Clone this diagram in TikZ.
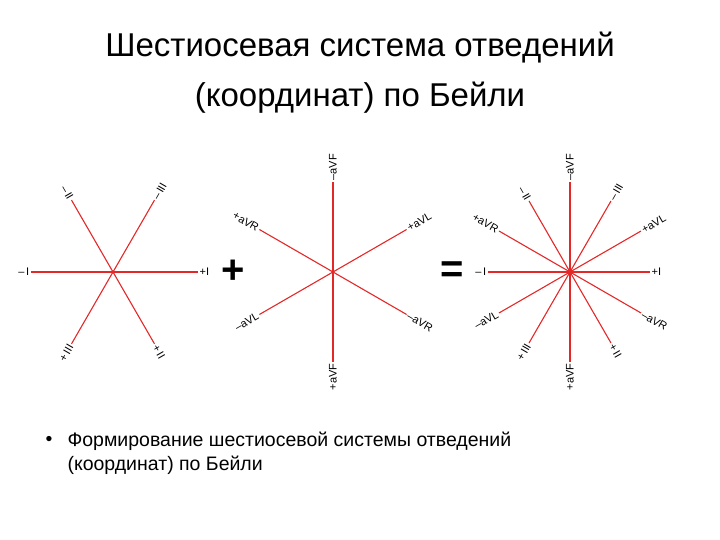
\documentclass[tikz,border=0pt]{standalone}
\usepackage{fontspec}
\setmainfont{Liberation Sans}
\definecolor{axred}{RGB}{228,40,40}
\begin{document}
\begin{tikzpicture}[x=1pt,y=1pt,
  axis/.style={draw=axred,line width=1.1pt},
  lblR/.style={font=\fontsize{11}{11}\selectfont,inner sep=1.5pt,anchor=west},
  lblL/.style={font=\fontsize{11}{11}\selectfont,inner sep=1.5pt,anchor=east},
  title/.style={font=\fontsize{33}{50}\selectfont,align=center},
  body/.style={font=\fontsize{19.5}{24}\selectfont,align=left,anchor=north west}]
\useasboundingbox (0,0) rectangle (720,540);
\node[title] (t) at (360,467) {Шестиосевая система отведений\\(координат) по Бейли};
\node[body] (b) at (64,112) {Формирование шестиосевой системы отведений\\(координат) по Бейли};
\node[font=\fontsize{19.5}{24}\selectfont] (bul) at (49,99) {•};
% left
\coordinate (L) at (113,268);
\foreach \a/\r/\t/\rot/\st in {0/85/+I/0/lblR, 60/83/--\,III/60/lblR, 300/83/+\,II/-60/lblR, 180/82/--\,I/0/lblL, 120/83/--\,II/-60/lblL, 240/83/+\,III/60/lblL}{
  \draw[axis] (L) -- ++(\a:\r) coordinate (e);
  \node[\st,rotate=\rot] (n) at (e) {\t};
}
% middle
\coordinate (M) at (333,268);
\foreach \a/\r/\t/\rot/\st in {90/90/--aVF/90/lblR, 30/85/+aVL/30/lblR, 330/85/--aVR/-30/lblR, 270/90/+aVF/90/lblL, 150/85/+aVR/-30/lblL, 210/85/--aVL/30/lblL}{
  \draw[axis] (M) -- ++(\a:\r) coordinate (e);
  \node[\st,rotate=\rot] (n) at (e) {\t};
}
% right
\coordinate (R) at (570,268);
\foreach \a/\r/\t/\rot/\st in {0/80/+I/0/lblR, 60/82/--\,III/60/lblR, 300/82/+\,II/-60/lblR, 180/82/--\,I/0/lblL, 120/82/--\,II/-60/lblL, 240/82/+\,III/60/lblL,
  90/90/--aVF/90/lblR, 30/82/+aVL/30/lblR, 330/82/--aVR/-30/lblR, 270/90/+aVF/90/lblL, 150/82/+aVR/-30/lblL, 210/82/--aVL/30/lblL}{
  \draw[axis] (R) -- ++(\a:\r) coordinate (e);
  \node[\st,rotate=\rot] (n) at (e) {\t};
}
\fill[axred] (R) circle (2.5);
\node[font=\fontsize{40}{40}\selectfont\bfseries] (plus) at (233,268) {+};
\node[font=\fontsize{40}{40}\selectfont\bfseries] (eq) at (452,268) {=};
\end{tikzpicture}
\end{document}
